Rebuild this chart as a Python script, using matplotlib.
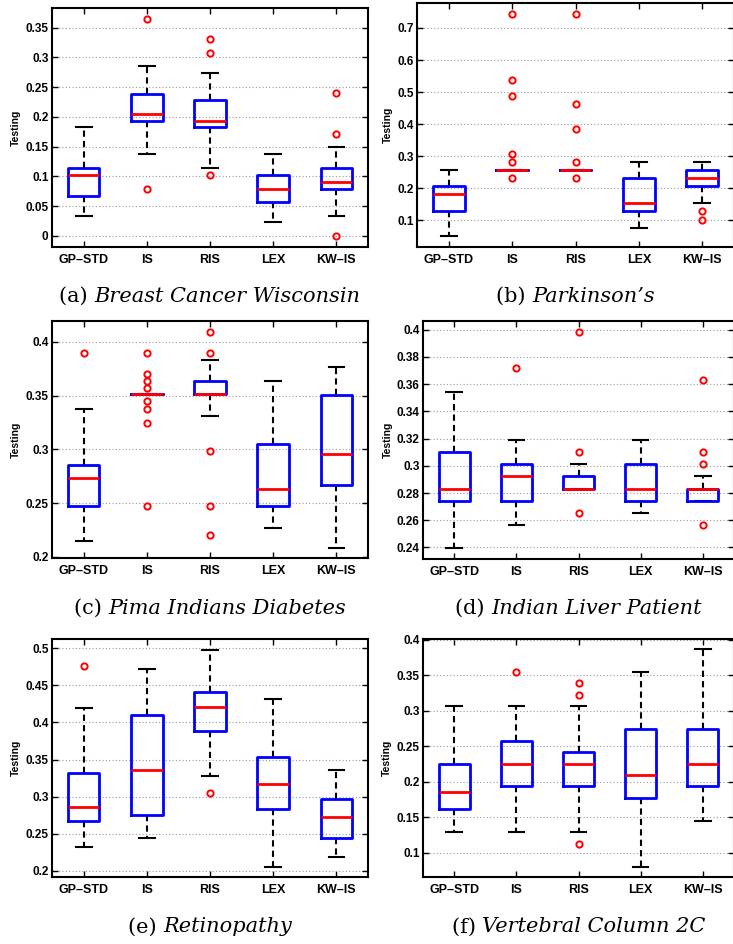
import matplotlib
matplotlib.use('Agg')
import matplotlib.pyplot as plt

methods = ['GP–STD', 'IS', 'RIS', 'LEX', 'KW–IS']

# each row: whisker low, q1, median, q3, whisker high
bcw_stats = [[0.034, 0.068, 0.103, 0.114, 0.183],
             [0.137, 0.194, 0.2055, 0.239, 0.2856],
             [0.114, 0.183, 0.194, 0.229, 0.274],
             [0.023, 0.057, 0.0795, 0.103, 0.137],
             [0.034, 0.0795, 0.091, 0.114, 0.149]]
bcw_fliers = [[], [0.365, 0.0795], [0.331, 0.308, 0.1025], [], [0.240, 0.171, 0.0]]
bcw_yticks = [0, 0.05, 0.1, 0.15, 0.2, 0.25, 0.3, 0.35]

park_stats = [[0.051, 0.128, 0.1814, 0.2054, 0.2565],
              [0.2565, 0.2565, 0.2565, 0.2565, 0.2565],
              [0.2565, 0.2565, 0.2565, 0.2565, 0.2565],
              [0.076, 0.128, 0.154, 0.2304, 0.2816],
              [0.154, 0.2054, 0.2304, 0.2565, 0.2816]]
park_fliers = [[], [0.745, 0.539, 0.487, 0.308, 0.2816, 0.2304],
               [0.745, 0.462, 0.385, 0.2816, 0.2304], [], [0.128, 0.102]]
park_yticks = [0.1, 0.2, 0.3, 0.4, 0.5, 0.6, 0.7]

pima_stats = [[0.2145, 0.247, 0.273, 0.2859, 0.3379],
              [0.3512, 0.3512, 0.3512, 0.3512, 0.3512],
              [0.3314, 0.3512, 0.3512, 0.3638, 0.3833],
              [0.2272, 0.247, 0.2631, 0.3054, 0.3638],
              [0.208, 0.2665, 0.2958, 0.3508, 0.3768]]
pima_fliers = [[0.3898], [0.3898, 0.3706, 0.3638, 0.3573, 0.345, 0.3379, 0.3249, 0.247],
               [0.4093, 0.3898, 0.2989, 0.247, 0.2207], [], []]
pima_yticks = [0.2, 0.25, 0.3, 0.35, 0.4]

liver_stats = [[0.2393, 0.2744, 0.2832, 0.3099, 0.3543],
               [0.2566, 0.2744, 0.2923, 0.3011, 0.3189],
               [0.2832, 0.2832, 0.2832, 0.2923, 0.3011],
               [0.2656, 0.2744, 0.2832, 0.3011, 0.3189],
               [0.2744, 0.2744, 0.2832, 0.2832, 0.2923]]
liver_fliers = [[], [0.3719], [0.398, 0.3099, 0.2656], [], [0.3629, 0.3099, 0.3011, 0.2566]]
liver_yticks = [0.24, 0.26, 0.28, 0.3, 0.32, 0.34, 0.36, 0.38, 0.4]

retino_stats = [[0.2314, 0.2665, 0.2858, 0.3316, 0.4192],
                [0.2445, 0.275, 0.3361, 0.4102, 0.4717],
                [0.328, 0.3891, 0.4214, 0.4412, 0.4977],
                [0.2054, 0.2835, 0.3168, 0.354, 0.4322],
                [0.2184, 0.2445, 0.2728, 0.2966, 0.3361]]
retino_fliers = [[0.4757], [], [0.3055], [], []]
retino_yticks = [0.2, 0.25, 0.3, 0.35, 0.4, 0.45, 0.5]

vert_stats = [[0.1296, 0.1611, 0.1856, 0.2256, 0.3064],
              [0.1296, 0.1941, 0.2256, 0.258, 0.3064],
              [0.1296, 0.1941, 0.2256, 0.2415, 0.3064],
              [0.0807, 0.1772, 0.2096, 0.2744, 0.3548],
              [0.1456, 0.1941, 0.2256, 0.2744, 0.3873]]
vert_fliers = [[], [0.3548], [0.3389, 0.3224, 0.1132], [], []]
vert_yticks = [0.1, 0.15, 0.2, 0.25, 0.3, 0.35, 0.4]

panels = [
    ('(a)', 'Breast Cancer Wisconsin', bcw_stats, bcw_fliers, bcw_yticks, (-0.0185, 0.383), (52, 368, 8, 247), 296),
    ('(b)', 'Parkinson’s', park_stats, park_fliers, park_yticks, (0.0165, 0.778), (417, 734, 3, 247), 296),
    ('(c)', 'Pima Indians Diabetes', pima_stats, pima_fliers, pima_yticks, (0.199, 0.4195), (52, 368, 321, 558), 608),
    ('(d)', 'Indian Liver Patient', liver_stats, liver_fliers, liver_yticks, (0.2315, 0.4064), (423, 734, 321, 559), 608),
    ('(e)', 'Retinopathy', retino_stats, retino_fliers, retino_yticks, (0.1915, 0.5126), (52, 368, 639, 877), 927),
    ('(f)', 'Vertebral Column 2C', vert_stats, vert_fliers, vert_yticks, (0.0661, 0.401), (423, 734, 639, 877), 927),
]

W, H = 733, 944
fig = plt.figure(figsize=(W / 100, H / 100), dpi=100)
renderer = fig.canvas.get_renderer()

for tag, name, stats, fliers, yticks, ylim, (l, r, t, b), cap_y in panels:
    ax = fig.add_axes([l / W, 1 - b / H, (r - l) / W, (b - t) / H])
    bxp_stats = []
    for row, fl in zip(stats, fliers):
        bxp_stats.append({'whislo': row[0], 'q1': row[1], 'med': row[2],
                          'q3': row[3], 'whishi': row[4], 'fliers': fl})
    ax.bxp(bxp_stats, positions=range(1, 6), widths=0.5, capwidths=0.25,
           boxprops=dict(color='#0000ff', linewidth=2, zorder=3),
           medianprops=dict(color='#ff0000', linewidth=2, zorder=4),
           whiskerprops=dict(color='black', linewidth=1.5, linestyle=(0, (3, 2)), zorder=2),
           capprops=dict(color='black', linewidth=1.5, zorder=2),
           flierprops=dict(marker='o', markerfacecolor='none', markeredgecolor='#ff0000',
                           markersize=4.5, markeredgewidth=1.4, zorder=5))
    ax.set_xlim(0.5, 5.5)
    ax.set_ylim(*ylim)
    ax.set_yticks(yticks)
    ax.set_yticklabels(['%g' % v for v in yticks])
    ax.set_xticks(range(1, 6))
    ax.set_xticklabels(methods)
    ax.yaxis.grid(True, linestyle=(0, (1, 2)), color='#9a9a9a', linewidth=0.8)
    ax.set_axisbelow(True)
    ax.tick_params(axis='both', direction='in', length=4, width=1, right=True, top=True)
    ax.tick_params(axis='y', pad=2.5)
    ax.tick_params(axis='x', pad=5)
    for lab in ax.get_yticklabels():
        lab.set_fontfamily('Liberation Sans')
        lab.set_fontweight('bold')
        lab.set_fontsize(8.5)
    for lab in ax.get_xticklabels():
        lab.set_fontfamily('Liberation Sans')
        lab.set_fontweight('bold')
        lab.set_fontsize(9)
    for sp in ax.spines.values():
        sp.set_linewidth(1.5)
    ax.set_ylabel('Testing', fontsize=7.5, fontweight='bold', family='Liberation Sans', labelpad=3)

    # caption: upright tag, italic dataset name, centred under the panel
    cx = (l + r) / 2 / W
    y = 1 - cap_y / H
    t1 = fig.text(0, y, tag + ' ', fontsize=15, family='DejaVu Serif', va='center')
    t2 = fig.text(0, y, name, fontsize=15, family='DejaVu Serif', style='italic', va='center')
    w1 = t1.get_window_extent(renderer).width / W
    w2 = t2.get_window_extent(renderer).width / W
    x0 = cx - (w1 + w2) / 2
    t1.set_x(x0)
    t2.set_x(x0 + w1)

fig.savefig('out.png', dpi=100)
